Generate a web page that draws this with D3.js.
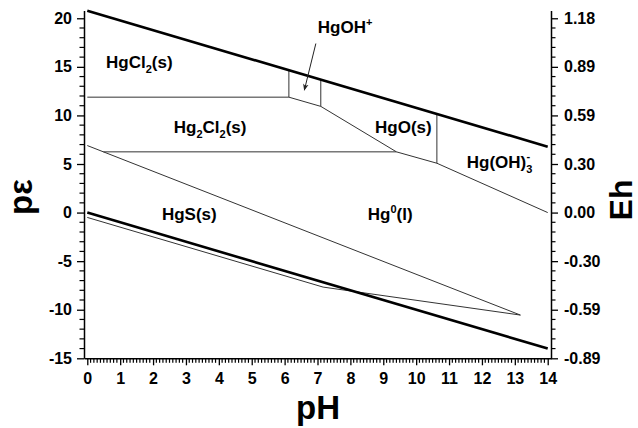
<!DOCTYPE html>
<html>
<head>
<meta charset="utf-8">
<script src="https://cdn.jsdelivr.net/npm/d3@7"></script>
<style>
  body { margin: 0; background: #fff; }
  text { font-family: "Liberation Sans", Arial, sans-serif; font-weight: bold; fill: #000; }
</style>
</head>
<body>
<div id="chart"></div>
<script>
// boundary lines, points are [pH, pe]
const waterUpper = [[0, 20.78], [14, 6.78]];
const waterLower = [[0, 0], [14, -14]];
const hgcl2Hg2cl2 = [[0, 11.88], [6.13, 11.88]];
const hgcl2Hgoh = [[6.13, 11.88], [6.13, 14.65]];
const hgohBottom = [[6.13, 11.88], [7.1, 10.93]];
const hgohHgo = [[7.1, 10.93], [7.1, 13.68]];
const hgoBottom = [[7.1, 10.93], [9.4, 6.25], [10.63, 5.08], [14, 0]];
const hgoHgoh3 = [[10.63, 5.08], [10.63, 10.15]];
const hg2cl2Hg = [[0.49, 6.25], [9.4, 6.25]];
const hgsTop = [[0, 6.9], [13.17, -10.55]];
const hgsBottom = [[0, -0.5], [7.17, -7.67], [13.17, -10.55]];

const thickLines = [waterUpper, waterLower];
const thinLines = [hgcl2Hg2cl2, hgcl2Hgoh, hgohBottom, hgohHgo, hgoBottom, hgoHgoh3, hg2cl2Hg, hgsTop, hgsBottom];

// ticks
const phTicks = d3.range(0, 15);
const peTicks = [-15, -10, -5, 0, 5, 10, 15, 20];
const ehLabels = ["-0.89", "-0.59", "-0.30", "0.00", "0.30", "0.59", "0.89", "1.18"];

// field labels, anchored at [pH, pe] of the text start
const fieldLabels = [
  { pH: 0.57, pe: 14.85, parts: [["HgCl"], ["2", "sub"], ["(s)"]] },
  { pH: 7.01, pe: 18.45, parts: [["HgOH"], ["+", "sup"]] },
  { pH: 2.63, pe: 8.15, parts: [["Hg"], ["2", "sub"], ["Cl"], ["2", "sub"], ["(s)"]] },
  { pH: 8.75, pe: 8.15, parts: [["HgO(s)"]] },
  { pH: 11.54, pe: 4.55, parts: [["Hg(OH)"], ["3", "sub"], ["-", "sup", 6]] },
  { pH: 2.27, pe: -0.8, parts: [["HgS(s)"]] },
  { pH: 8.53, pe: -0.8, parts: [["Hg"], ["0", "sup"], ["(l)"]] }
];
const hgohArrow = [[6.95, 17.4], [6.6, 12.6]];

const width = 638, height = 428;

const x = d3.scaleLinear().domain([-0.1, 14.1]).range([84, 551]);
const y = d3.scaleLinear().domain([-15, 20.8]).range([358.3, 10.5]);

const svg = d3.select("#chart").append("svg")
  .attr("width", width)
  .attr("height", height)
  .style("background", "#fff");

svg.append("defs").append("marker")
  .attr("id", "head")
  .attr("viewBox", "0 0 10 10")
  .attr("refX", 9).attr("refY", 5)
  .attr("markerWidth", 7).attr("markerHeight", 7)
  .attr("orient", "auto")
  .append("path")
  .attr("d", "M0,1 L10,5 L0,9 L3,5 Z")
  .attr("fill", "#222");

const line = d3.line().x(d => x(d[0])).y(d => y(d[1]));

svg.selectAll(".thin").data(thinLines).enter().append("path")
  .attr("class", "thin")
  .attr("d", line)
  .attr("fill", "none")
  .attr("stroke", "#333")
  .attr("stroke-width", 1);

svg.selectAll(".thick").data(thickLines).enter().append("path")
  .attr("class", "thick")
  .attr("d", line)
  .attr("fill", "none")
  .attr("stroke", "#000")
  .attr("stroke-width", 2.6);

// axes
const minorPh = d3.range(0, 141, 1).filter(d => d % 10 !== 0).map(d => d / 10);
const minorPe = d3.range(-15, 21, 1).filter(d => d % 5 !== 0);

svg.append("g").attr("transform", "translate(0,358.3)")
  .call(d3.axisBottom(x).tickValues(phTicks).tickSize(7).tickSizeOuter(0).tickPadding(7)
    .tickFormat(d => String(d)));
svg.append("g").attr("transform", "translate(84,0)")
  .call(d3.axisLeft(y).tickValues(peTicks).tickSize(7).tickSizeOuter(0).tickPadding(5)
    .tickFormat(d => String(d)));
svg.append("g").attr("transform", "translate(551,0)")
  .call(d3.axisRight(y).tickValues(peTicks).tickSize(7).tickSizeOuter(0).tickPadding(6)
    .tickFormat(d => ehLabels[peTicks.indexOf(d)]));

// minor ticks
const minor = svg.append("g").attr("stroke", "#000").attr("stroke-width", 1.2);
minor.selectAll(".mx").data(minorPh).enter().append("line")
  .attr("x1", d => x(d)).attr("x2", d => x(d))
  .attr("y1", 358.3).attr("y2", 362.8);
minor.selectAll(".ml").data(minorPe).enter().append("line")
  .attr("x1", 84).attr("x2", 79.5)
  .attr("y1", d => y(d)).attr("y2", d => y(d));
minor.selectAll(".mr").data(minorPe).enter().append("line")
  .attr("x1", 551).attr("x2", 555.5)
  .attr("y1", d => y(d)).attr("y2", d => y(d));

svg.selectAll(".domain").attr("stroke", "#000").attr("stroke-width", 1.5);
svg.selectAll(".tick line").attr("stroke", "#000").attr("stroke-width", 1.3);
svg.selectAll(".tick text")
  .attr("font-family", "Liberation Sans, Arial, sans-serif")
  .attr("font-weight", "bold")
  .attr("font-size", 16)
  .attr("fill", "#000");

// field labels
fieldLabels.forEach(lb => {
  const t = svg.append("text")
    .attr("x", x(lb.pH))
    .attr("y", y(lb.pe))
    .attr("font-size", 17);
  let shift = 0;
  lb.parts.forEach(p => {
    let off = p[1] === "sub" ? 5 : p[1] === "sup" ? -7 : 0;
    const ts = t.append("tspan").text(p[0]);
    if (p[1]) ts.attr("font-size", 11);
    if (p[2]) {
      ts.attr("dx", -p[2]);
      off = -8;
    }
    ts.attr("dy", off - shift);
    shift = off;
  });
});

svg.append("path")
  .attr("d", line(hgohArrow))
  .attr("stroke", "#222")
  .attr("stroke-width", 1)
  .attr("fill", "none")
  .attr("marker-end", "url(#head)");

// axis titles
svg.append("text")
  .attr("transform", "translate(318,419)")
  .attr("text-anchor", "middle")
  .attr("font-size", 33)
  .text("pH");

svg.append("text")
  .attr("transform", "translate(32,197) rotate(-90)")
  .attr("text-anchor", "middle")
  .attr("font-size", 33)
  .text("pε");

svg.append("text")
  .attr("transform", "translate(632,200) rotate(-90)")
  .attr("text-anchor", "middle")
  .attr("font-size", 32)
  .text("Eh");
</script>
</body>
</html>
